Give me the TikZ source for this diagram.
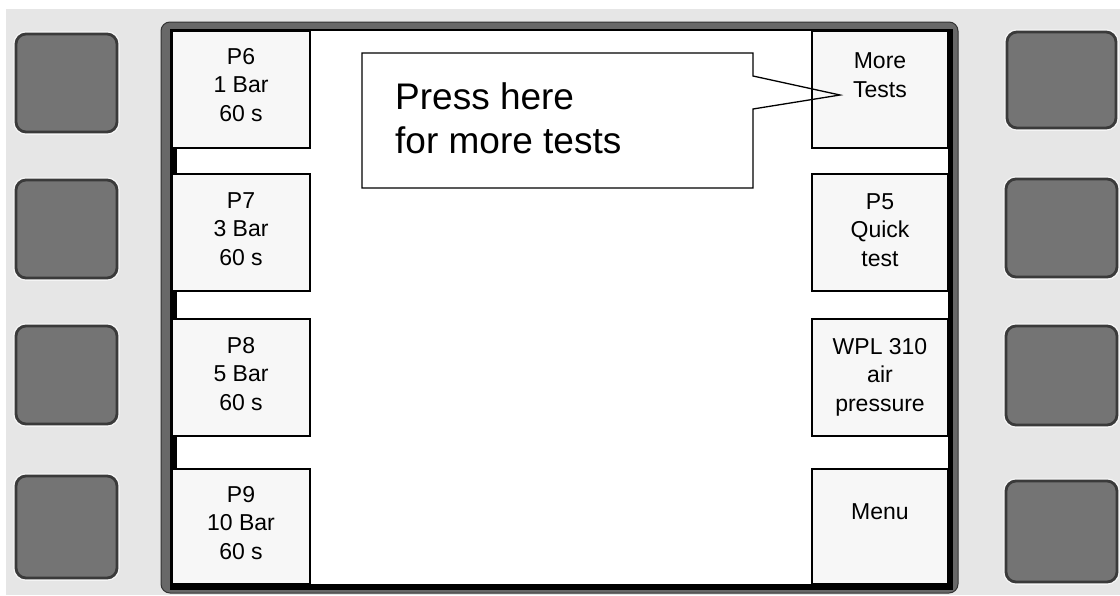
\documentclass[tikz,border=0pt]{standalone}
\usepackage{fontspec}
\setmainfont{Liberation Sans}
\definecolor{panelbg}{HTML}{E6E6E6}
\definecolor{keyfill}{HTML}{747474}
\definecolor{keyedge}{HTML}{3A3A3A}
\definecolor{bezel}{HTML}{686868}
\definecolor{softfill}{HTML}{F7F7F7}
\begin{document}
\begin{tikzpicture}[x=1pt,y=-1pt,
  hwkey/.style={draw=keyedge, line width=2.8pt, fill=keyfill, rounded corners=10pt,
    preaction={draw=white!96!black, line width=5.5pt}},
  softkey/.style={draw=black, line width=1.6pt, fill=softfill},
  keytext/.style={anchor=north, inner sep=0pt, align=center, font=\fontsize{23}{28.7}\selectfont},
  notetext/.style={anchor=north west, inner sep=0pt, align=left, font=\fontsize{37}{44}\selectfont},
]
\useasboundingbox (0,0) rectangle (1120,595);
% background
\fill[white] (0,0) rectangle (1120,595);
\fill[panelbg] (6,9) rectangle (1120,595);

% hardware keys, left
\draw[hwkey] (16,34) rectangle (117,132);
\draw[hwkey] (16,180) rectangle (117,278);
\draw[hwkey] (16,326) rectangle (117,424);
\draw[hwkey] (16,476) rectangle (117,578);
% hardware keys, right
\draw[hwkey] (1007,32) rectangle (1116,128);
\draw[hwkey] (1006,179) rectangle (1117,277);
\draw[hwkey] (1006,326) rectangle (1117,425);
\draw[hwkey] (1006,481) rectangle (1117,582);

% bezel and screen
\draw[rounded corners=9pt, fill=bezel, draw=black!80, line width=1pt] (161,22) rectangle (958,593);
\fill[black] (170,29) rectangle (953,590);
\fill[white] (172,31) rectangle (948,584);

% gap markers on the left
\fill[black] (172,148) rectangle (177,174);
\fill[black] (172,291) rectangle (177,319);
\fill[black] (172,436) rectangle (177,469);

% callout fill (below the soft keys)
\fill[white] (362,53) -- (753,53) -- (753,76) -- (840,95) -- (753,109) -- (753,188) -- (362,188) -- cycle;

% soft keys, left
\draw[softkey] (172,31) rectangle (310,148);
\draw[softkey] (172,174) rectangle (310,291);
\draw[softkey] (172,319) rectangle (310,436);
\draw[softkey] (172,469) rectangle (310,584);
% soft keys, right
\draw[softkey] (812,31) rectangle (948,148);
\draw[softkey] (812,174) rectangle (948,291);
\draw[softkey] (812,319) rectangle (948,436);
\draw[softkey] (812,469) rectangle (948,584);

% soft key labels
\node[keytext] (t6) at (241,48) {P6\\1 Bar\\60 s};
\node[keytext] (t7) at (241,192) {P7\\3 Bar\\60 s};
\node[keytext] (t8) at (241,337) {P8\\5 Bar\\60 s};
\node[keytext] (t9) at (241,486) {P9\\10 Bar\\60 s};
\node[keytext] (tmore) at (880,52.5) {More\\Tests};
\node[keytext] (t5) at (880,193) {P5\\Quick\\test};
\node[keytext] (twpl) at (880,338) {WPL 310\\air\\pressure};
\node[keytext] (tmenu) at (880,503.5) {Menu};

% callout outline and text
\draw[line width=1.3pt, line join=miter] (362,53) -- (753,53) -- (753,76) -- (840,95) -- (753,109) -- (753,188) -- (362,188) -- cycle;
\node[notetext] (note) at (395,82.5) {Press here\\for more tests};
\end{tikzpicture}
\end{document}
